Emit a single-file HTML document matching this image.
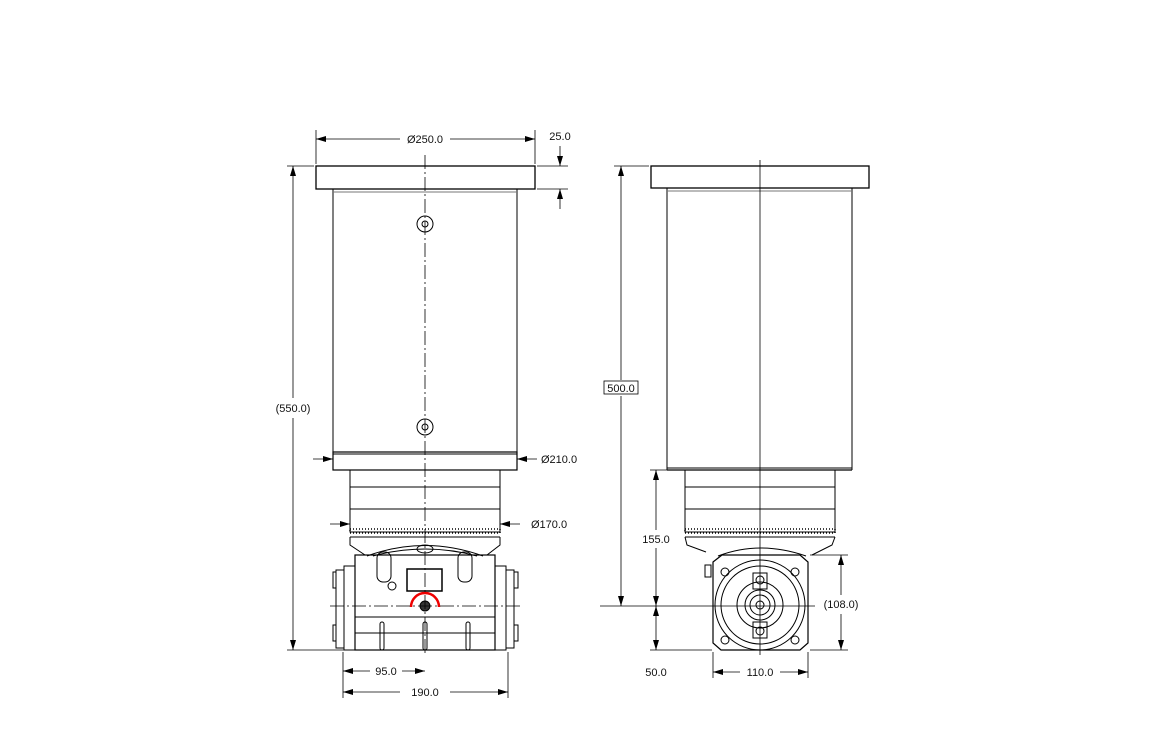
<!DOCTYPE html>
<html><head><meta charset="utf-8"><style>
html,body{margin:0;padding:0;background:#fff;}
svg{display:block;}
text{font-family:"Liberation Sans",sans-serif;font-size:11px;fill:#111;}
</style></head><body>
<svg width="1170" height="739" viewBox="0 0 1170 739" xmlns="http://www.w3.org/2000/svg">
<defs>
<marker id="a" viewBox="0 0 10 6" refX="10" refY="3" markerWidth="10" markerHeight="6" orient="auto-start-reverse" markerUnits="userSpaceOnUse"><path d="M0,0L10,3L0,6z" fill="#000"/></marker>
</defs>
<g fill="none" stroke="#000" stroke-width="1">
<!-- LEFT VIEW -->
<rect x="316" y="166" width="219" height="23" stroke-width="1.3"/>
<path d="M333,189 L333,452 M517,189 L517,452"/>
<line x1="333" y1="192" x2="517" y2="192" stroke="#777"/>
<rect x="333" y="452" width="184" height="18" stroke-width="1.2"/>
<line x1="333" y1="454" x2="517" y2="454"/>
<rect x="350" y="470" width="150" height="62"/>
<line x1="350" y1="487" x2="500" y2="487"/>
<line x1="350" y1="509" x2="500" y2="509"/>
<rect x="350" y="529" width="150" height="4" stroke-width="1.5" stroke-dasharray="1 2"/>
<line x1="350" y1="537" x2="500" y2="537"/>
<path d="M350,537 L350,545 L365,555 M500,537 L500,545 L487,555"/>
<path d="M367,556 Q425,535 483,556" />
<path d="M373,556 Q425,542 477,556"/>
<ellipse cx="425" cy="549" rx="8" ry="4"/>
<rect x="355" y="555" width="140" height="95" stroke-width="1.2"/>
<rect x="344" y="566" width="11" height="84"/>
<rect x="336" y="570" width="8" height="78"/>
<rect x="495" y="566" width="11" height="84"/>
<rect x="506" y="570" width="8" height="78"/>
<rect x="333" y="572" width="3" height="16"/><rect x="333" y="625" width="3" height="16"/>
<rect x="514" y="572" width="4" height="16"/><rect x="514" y="625" width="4" height="16"/>
<line x1="355" y1="617" x2="495" y2="617"/>
<line x1="355" y1="633" x2="495" y2="633"/>
<rect x="377" y="552" width="14" height="30" rx="6"/>
<rect x="458" y="552" width="14" height="30" rx="6"/>
<circle cx="392" cy="586" r="4"/>
<rect x="407" y="569" width="35" height="22" stroke-width="1.5"/>
<rect x="380" y="622" width="4" height="28" rx="2"/>
<rect x="423" y="622" width="4" height="28" rx="2"/>
<rect x="466" y="622" width="4" height="28" rx="2"/>
<circle cx="425" cy="606" r="5" fill="#333"/>
<path d="M411,607 A14,14 0 0 1 439,607" stroke="#e00" stroke-width="2.5"/>
<!-- holes -->
<circle cx="425" cy="224" r="8"/><circle cx="425" cy="224" r="3"/>
<circle cx="425" cy="427" r="8"/><circle cx="425" cy="427" r="3"/>
<!-- centerline -->
<line x1="425" y1="155" x2="425" y2="655" stroke-dasharray="14 3 2 3" stroke-width="0.8"/>
<line x1="330" y1="606" x2="520" y2="606" stroke-dasharray="14 3 2 3" stroke-width="0.8"/>

<!-- RIGHT VIEW -->
<rect x="651" y="166" width="218" height="22" stroke-width="1.3"/>
<path d="M667,188 L667,470 M852,188 L852,470"/>
<line x1="667" y1="191" x2="852" y2="191" stroke="#777"/>
<line x1="667" y1="470" x2="852" y2="470" stroke-width="1.2"/>
<line x1="667" y1="468" x2="852" y2="468"/>
<rect x="685" y="470" width="150" height="62"/>
<line x1="685" y1="487" x2="835" y2="487"/>
<line x1="685" y1="509" x2="835" y2="509"/>
<rect x="685" y="529" width="150" height="4" stroke-width="1.5" stroke-dasharray="1 2"/>
<line x1="685" y1="537" x2="835" y2="537"/>
<path d="M685,537 L687,545 L706,552 M835,537 L832,545 L812,555"/>
<path d="M718,556 Q760,540 806,556"/>
<path d="M713,562 L722,555 L800,555 L808,562 L808,643 L800,650 L721,650 L713,643 Z" stroke-width="1.2"/>
<rect x="705" y="565" width="6" height="12"/>
<circle cx="760" cy="605" r="45"/>
<circle cx="760" cy="605" r="39"/>
<circle cx="760" cy="605" r="23"/>
<circle cx="760" cy="605" r="15"/>
<circle cx="760" cy="605" r="10"/>
<circle cx="760" cy="605" r="4"/>
<rect x="753" y="573" width="14" height="16"/><circle cx="760" cy="580" r="4"/>
<rect x="753" y="622" width="14" height="16"/><circle cx="760" cy="631" r="4"/>
<circle cx="725" cy="572" r="4"/><circle cx="795" cy="572" r="4"/>
<circle cx="725" cy="640" r="4"/><circle cx="795" cy="640" r="4"/>
<line x1="760" y1="160" x2="760" y2="655" stroke-width="0.8"/>
<line x1="600" y1="606" x2="815" y2="606" stroke-width="0.8"/>

<!-- DIMENSIONS left -->
<g stroke-width="0.8">
<line x1="316" y1="130" x2="316" y2="164"/><line x1="535" y1="130" x2="535" y2="164"/>
<line x1="316" y1="139" x2="400" y2="139" marker-start="url(#a)"/>
<line x1="450" y1="139" x2="535" y2="139" marker-end="url(#a)"/>
<line x1="537" y1="166" x2="568" y2="166"/><line x1="537" y1="189" x2="568" y2="189"/>
<line x1="560" y1="146" x2="560" y2="166" marker-end="url(#a)"/>
<line x1="560" y1="209" x2="560" y2="189" marker-end="url(#a)"/>
<line x1="287" y1="166" x2="314" y2="166"/>
<line x1="287" y1="650" x2="344" y2="650"/>
<line x1="293" y1="166" x2="293" y2="398" marker-start="url(#a)"/>
<line x1="293" y1="418" x2="293" y2="650" marker-end="url(#a)"/>
<line x1="313" y1="459" x2="333" y2="459" marker-end="url(#a)"/>
<line x1="537" y1="459" x2="517" y2="459" marker-end="url(#a)"/>
<line x1="330" y1="524" x2="350" y2="524" marker-end="url(#a)"/>
<line x1="520" y1="524" x2="500" y2="524" marker-end="url(#a)"/>
<line x1="343" y1="652" x2="343" y2="698"/>
<line x1="508" y1="652" x2="508" y2="698"/>
<line x1="343" y1="671" x2="370" y2="671" marker-start="url(#a)"/>
<line x1="402" y1="671" x2="425" y2="671" marker-end="url(#a)"/>
<line x1="343" y1="692" x2="400" y2="692" marker-start="url(#a)"/>
<line x1="450" y1="692" x2="508" y2="692" marker-end="url(#a)"/>
<!-- right dims -->
<line x1="614" y1="166" x2="649" y2="166"/>
<line x1="621" y1="166" x2="621" y2="380" marker-start="url(#a)"/>
<line x1="621" y1="396" x2="621" y2="606" marker-end="url(#a)"/>
<line x1="650" y1="470" x2="684" y2="470"/>
<line x1="650" y1="650" x2="712" y2="650"/>
<line x1="656" y1="470" x2="656" y2="530" marker-start="url(#a)"/>
<line x1="656" y1="548" x2="656" y2="606" marker-end="url(#a)"/>
<line x1="656" y1="612" x2="656" y2="606" />
<line x1="656" y1="606" x2="656" y2="650" marker-start="url(#a)" marker-end="url(#a)"/>
<line x1="810" y1="555" x2="848" y2="555"/>
<line x1="810" y1="650" x2="848" y2="650"/>
<line x1="841" y1="555" x2="841" y2="595" marker-start="url(#a)"/>
<line x1="841" y1="614" x2="841" y2="650" marker-end="url(#a)"/>
<line x1="713" y1="652" x2="713" y2="678"/><line x1="808" y1="652" x2="808" y2="678"/>
<line x1="713" y1="672" x2="740" y2="672" marker-start="url(#a)"/>
<line x1="780" y1="672" x2="808" y2="672" marker-end="url(#a)"/>
</g>
<rect x="604" y="381" width="34" height="13" fill="#fff" stroke-width="0.8"/>
</g>
<text x="425" y="143" text-anchor="middle">Ø250.0</text>
<text x="560" y="140" text-anchor="middle">25.0</text>
<text x="293" y="412" text-anchor="middle">(550.0)</text>
<text x="541" y="463">Ø210.0</text>
<text x="531" y="528">Ø170.0</text>
<text x="386" y="675" text-anchor="middle">95.0</text>
<text x="425" y="696" text-anchor="middle">190.0</text>
<text x="621" y="392" text-anchor="middle">500.0</text>
<text x="656" y="543" text-anchor="middle">155.0</text>
<text x="656" y="676" text-anchor="middle">50.0</text>
<text x="841" y="608" text-anchor="middle">(108.0)</text>
<text x="760" y="676" text-anchor="middle">110.0</text>
</svg>
</body></html>
